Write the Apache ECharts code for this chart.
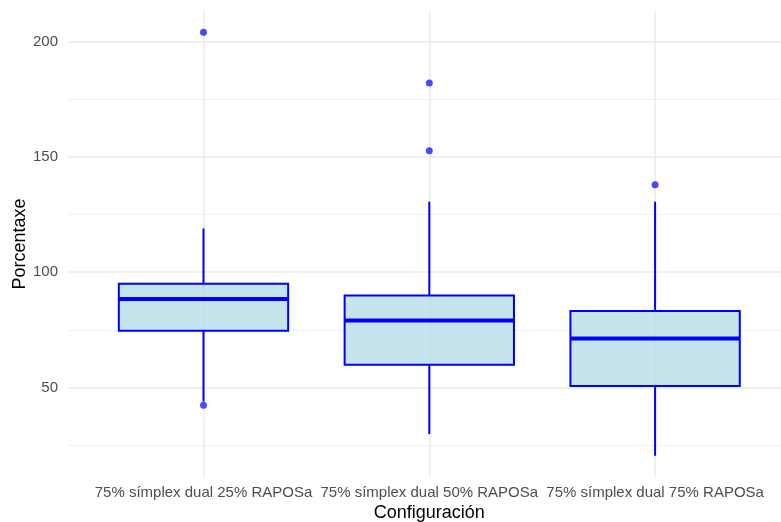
<!DOCTYPE html>
<html>
<head>
<meta charset="utf-8">
<script src="https://cdn.jsdelivr.net/npm/echarts@6/dist/echarts.min.js"></script>
<style>
html,body{margin:0;padding:0;background:#fff;}
#chart{width:781px;height:522px;}
</style>
</head>
<body>
<div id="chart"></div>
<script>
const categories = ['75% símplex dual 25% RAPOSa', '75% símplex dual 50% RAPOSa', '75% símplex dual 75% RAPOSa'];
const whiskerLow = [43.9, 29.8, 20.4];
const q1 = [74.6, 59.9, 50.7];
const median = [88.4, 79.1, 71.3];
const q3 = [95.0, 89.9, 83.2];
const whiskerHigh = [119.0, 130.6, 130.6];
const outlierCat = [0, 0, 1, 1, 2];
const outlierVal = [204.1, 42.3, 182.1, 152.7, 138.0];
const yTicks = [50, 100, 150, 200];
const yMinorTicks = [25, 75, 125, 175];
const xCenters = [0, 1, 2];
const yMin = 11.2, yMax = 213.3;

const boxData = categories.map((c, i) => [i, whiskerLow[i], q1[i], median[i], q3[i], whiskerHigh[i]]);
const outlierData = outlierCat.map((c, i) => [c, outlierVal[i]]);

const textFont = 'Liberation Sans, Arial, sans-serif';
const chart = echarts.init(document.getElementById('chart'), null, {renderer: 'canvas'});
chart.setOption({
  animation: false,
  backgroundColor: '#ffffff',
  grid: [
    {left: 68, top: 11, width: 722.6, bottom: 45, containLabel: false, outerBoundsMode: 'none'},
    {left: 90.6, top: 11, width: 677.4, bottom: 45, containLabel: false, outerBoundsMode: 'none'}
  ],
  xAxis: [
    {
      gridIndex: 0, type: 'value', min: -0.6, max: 2.6,
      axisLine: {show: false}, axisLabel: {show: false},
      axisTick: {show: false, customValues: xCenters},
      splitLine: {show: true, lineStyle: {color: '#ebebeb', width: 1.6}}
    },
    {
      gridIndex: 1, type: 'category', data: categories,
      axisLine: {show: false}, axisTick: {show: false},
      splitLine: {show: false},
      axisLabel: {interval: 0, color: '#4d4d4d', fontSize: 15, fontFamily: textFont, margin: 8, lineHeight: 15},
      name: 'Configuración', nameLocation: 'middle', nameGap: 27, nameMoveOverlap: false,
      nameTextStyle: {color: '#000000', fontSize: 18, fontFamily: textFont, lineHeight: 18}
    }
  ],
  yAxis: [
    {
      gridIndex: 0, type: 'value', min: yMin, max: yMax,
      axisLine: {show: false},
      axisTick: {show: false, customValues: yTicks},
      axisLabel: {customValues: yTicks, color: '#4d4d4d', fontSize: 15, fontFamily: textFont, margin: 10},
      splitLine: {show: true, lineStyle: {color: '#ebebeb', width: 1.6}},
      name: 'Porcentaxe', nameLocation: 'middle', nameGap: 39, nameMoveOverlap: false,
      nameTextStyle: {color: '#000000', fontSize: 18, fontFamily: textFont, lineHeight: 18}
    },
    {
      gridIndex: 0, type: 'value', min: yMin, max: yMax,
      axisLine: {show: false}, axisLabel: {show: false},
      axisTick: {show: false, customValues: yMinorTicks},
      splitLine: {show: true, lineStyle: {color: '#f0f0f0', width: 1}}
    },
    {
      gridIndex: 1, type: 'value', min: yMin, max: yMax,
      axisLine: {show: false}, axisLabel: {show: false}, axisTick: {show: false},
      splitLine: {show: false}
    }
  ],
  series: [
    {
      type: 'custom', xAxisIndex: 1, yAxisIndex: 2,
      data: boxData,
      encode: {x: 0, y: [1, 2, 3, 4, 5]},
      renderItem: function (params, api) {
        const x = api.value(0);
        const pLo = api.coord([x, api.value(1)]);
        const pQ1 = api.coord([x, api.value(2)]);
        const pMd = api.coord([x, api.value(3)]);
        const pQ3 = api.coord([x, api.value(4)]);
        const pHi = api.coord([x, api.value(5)]);
        const bw = api.size([1, 0])[0] * 0.75;
        const cx = pMd[0];
        const stroke = '#0000ff';
        return {
          type: 'group',
          children: [
            {type: 'line', shape: {x1: cx, y1: pQ3[1], x2: cx, y2: pHi[1]}, style: {stroke: stroke, lineWidth: 2}},
            {type: 'line', shape: {x1: cx, y1: pQ1[1], x2: cx, y2: pLo[1]}, style: {stroke: stroke, lineWidth: 2}},
            {type: 'rect', shape: {x: cx - bw / 2, y: pQ3[1], width: bw, height: pQ1[1] - pQ3[1]},
              style: {fill: 'rgba(173,216,230,0.7)', stroke: stroke, lineWidth: 2}},
            {type: 'line', shape: {x1: cx - bw / 2, y1: pMd[1], x2: cx + bw / 2, y2: pMd[1]}, style: {stroke: stroke, lineWidth: 4}}
          ]
        };
      }
    },
    {
      type: 'scatter', xAxisIndex: 1, yAxisIndex: 2,
      data: outlierData, symbolSize: 7,
      itemStyle: {color: 'rgba(0,0,255,0.7)', opacity: 1}
    }
  ]
});
</script>
</body>
</html>
